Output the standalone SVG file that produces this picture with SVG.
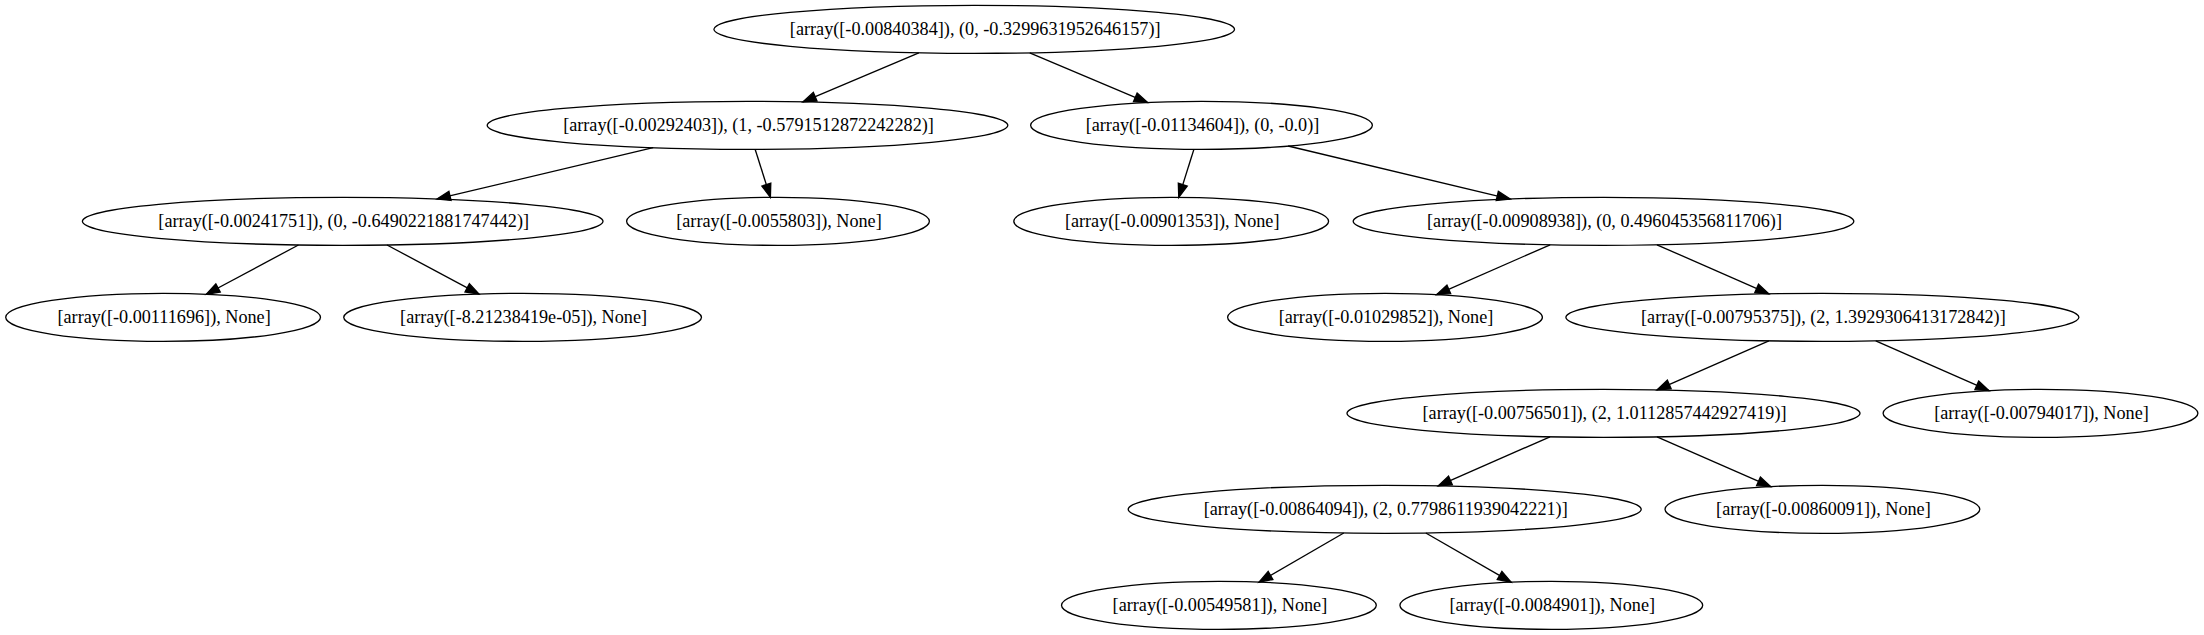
<svg xmlns="http://www.w3.org/2000/svg" width="2204" height="635" viewBox="0 0 2204 635">
<style>
.node ellipse{fill:none;stroke:#000;stroke-width:1.33}
.node text{font-family:"Liberation Serif","Times New Roman",serif;font-size:18.2px;text-anchor:middle;fill:#000}
.edges line{stroke:#000;stroke-width:1.33;fill:none;marker-end:url(#arr)}
</style>
<defs>
<marker id="arr" markerUnits="userSpaceOnUse" markerWidth="14" markerHeight="10" refX="13.33" refY="0" viewBox="0 -5 14 10" orient="auto" overflow="visible">
<path d="M0,-4.67 L13.33,0 L0,4.67 Z" fill="#000" stroke="#000" stroke-width="1.33"/>
</marker>
</defs>
<rect width="2204" height="635" fill="#fff"/>
<g class="edges" id="edges">
<line x1="918.82" y1="52.78" x2="802.88" y2="101.88"/>
<line x1="1029.72" y1="52.78" x2="1147.58" y2="102.56"/>
<line x1="653.18" y1="147.70" x2="437.02" y2="198.96"/>
<line x1="755.12" y1="149.32" x2="770.38" y2="197.36"/>
<line x1="1193.93" y1="149.31" x2="1178.77" y2="197.36"/>
<line x1="1288.13" y1="146.02" x2="1510.24" y2="199.06"/>
<line x1="298.45" y1="244.98" x2="206.28" y2="294.25"/>
<line x1="387.02" y1="244.98" x2="478.98" y2="294.05"/>
<line x1="1550.13" y1="244.78" x2="1436.61" y2="294.66"/>
<line x1="1656.96" y1="244.78" x2="1768.88" y2="293.86"/>
<line x1="1768.88" y1="340.80" x2="1657.02" y2="389.86"/>
<line x1="1875.73" y1="340.81" x2="1988.98" y2="390.65"/>
<line x1="1550.00" y1="436.80" x2="1438.20" y2="485.86"/>
<line x1="1657.02" y1="436.80" x2="1770.71" y2="486.66"/>
<line x1="1343.78" y1="533.02" x2="1258.98" y2="582.12"/>
<line x1="1425.81" y1="533.02" x2="1511.14" y2="582.19"/>
</g>
<g class="node" id="n0"><ellipse cx="974.2" cy="29.33" rx="260.3" ry="24"/><text x="975.2" y="34.6">[array([-0.00840384]), (0, -0.3299631952646157)]</text></g>
<g class="node" id="n1"><ellipse cx="747.5" cy="125.33" rx="260.3" ry="24"/><text x="748.5" y="130.6">[array([-0.00292403]), (1, -0.5791512872242282)]</text></g>
<g class="node" id="n2"><ellipse cx="1201.5" cy="125.33" rx="170.9" ry="24"/><text x="1202.5" y="130.6">[array([-0.01134604]), (0, -0.0)]</text></g>
<g class="node" id="n3"><ellipse cx="342.7" cy="221.33" rx="260.3" ry="24"/><text x="343.7" y="226.6">[array([-0.00241751]), (0, -0.6490221881747442)]</text></g>
<g class="node" id="n4"><ellipse cx="778" cy="221.33" rx="151.4" ry="24"/><text x="779" y="226.6">[array([-0.0055803]), None]</text></g>
<g class="node" id="n5"><ellipse cx="1171.2" cy="221.33" rx="157.4" ry="24"/><text x="1172.2" y="226.6">[array([-0.00901353]), None]</text></g>
<g class="node" id="n6"><ellipse cx="1603.5" cy="221.33" rx="250.3" ry="24"/><text x="1604.5" y="226.6">[array([-0.00908938]), (0, 0.496045356811706)]</text></g>
<g class="node" id="n7"><ellipse cx="163.1" cy="317.33" rx="157.4" ry="24"/><text x="164.1" y="322.6">[array([-0.00111696]), None]</text></g>
<g class="node" id="n8"><ellipse cx="522.6" cy="317.33" rx="178.9" ry="24"/><text x="523.6" y="322.6">[array([-8.21238419e-05]), None]</text></g>
<g class="node" id="n9"><ellipse cx="1385" cy="317.33" rx="157.4" ry="24"/><text x="1386" y="322.6">[array([-0.01029852]), None]</text></g>
<g class="node" id="n10"><ellipse cx="1822.4" cy="317.33" rx="256.5" ry="24"/><text x="1823.4" y="322.6">[array([-0.00795375]), (2, 1.3929306413172842)]</text></g>
<g class="node" id="n11"><ellipse cx="1603.5" cy="413.33" rx="256.5" ry="24"/><text x="1604.5" y="418.6">[array([-0.00756501]), (2, 1.0112857442927419)]</text></g>
<g class="node" id="n12"><ellipse cx="2040.5" cy="413.33" rx="157.4" ry="24"/><text x="2041.5" y="418.6">[array([-0.00794017]), None]</text></g>
<g class="node" id="n13"><ellipse cx="1384.7" cy="509.33" rx="256.5" ry="24"/><text x="1385.7" y="514.6">[array([-0.00864094]), (2, 0.7798611939042221)]</text></g>
<g class="node" id="n14"><ellipse cx="1822.4" cy="509.33" rx="157.4" ry="24"/><text x="1823.4" y="514.6">[array([-0.00860091]), None]</text></g>
<g class="node" id="n15"><ellipse cx="1218.9" cy="605.33" rx="157.4" ry="24"/><text x="1219.9" y="610.6">[array([-0.00549581]), None]</text></g>
<g class="node" id="n16"><ellipse cx="1551.3" cy="605.33" rx="151.4" ry="24"/><text x="1552.3" y="610.6">[array([-0.0084901]), None]</text></g>
</svg>
